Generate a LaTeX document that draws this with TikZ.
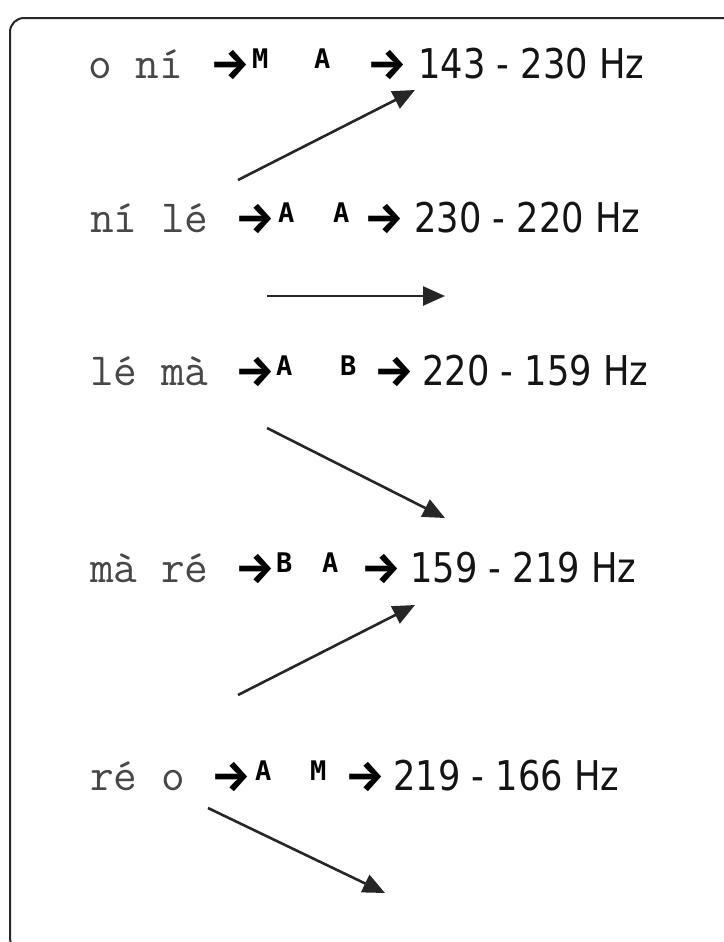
\documentclass[tikz,border=0pt]{standalone}
\usepackage{fontspec}
\setmainfont{DejaVu Sans}
\newfontfamily\hzf[FakeStretch=0.86]{DejaVu Sans}
\newfontfamily\arrf{Fira Sans}
\newfontfamily\supf{DejaVu Sans Mono}
\usetikzlibrary{arrows.meta}
\tikzset{
  syl/.style={inner sep=0pt, anchor=base west, text=black!72, font=\ttfamily\fontsize{46bp}{50bp}\selectfont},
  arr/.style={inner sep=0pt, anchor=base west, font=\arrf\bfseries\fontsize{44bp}{48bp}\selectfont},
  tone/.style={inner sep=0pt, anchor=base west, font=\supf\bfseries\fontsize{27bp}{30bp}\selectfont},
  hz/.style={inner sep=0pt, anchor=base west, text=black!92, font=\hzf\fontsize{41bp}{48bp}\selectfont},
  link/.style={line width=2.6bp, black!85, -{Triangle[length=22bp,width=19bp]}},
  frame/.style={line width=2bp, black!85, rounded corners=14bp}
}
\begin{document}
\begin{tikzpicture}[x=1bp,y=-1bp]
\useasboundingbox (0,0) rectangle (724,942);
\begin{scope}
\clip (0,0) rectangle (724,942);
\draw[frame] (10,18) rectangle (738,952);
\end{scope}
% row 1
\node[syl]  (s1) at (88,78) {o ní};
\node[arr]  (a1) at (210,79) {→};
\node[tone] (t1a) at (252,68) {M};
\node[tone] (t1b) at (314,68) {A};
\node[arr]  (b1) at (367,79) {→};
\node[hz]   (h1) at (418,78) {143 - 230 Hz};
% row 2
\node[syl]  (s2) at (90,232) {ní lé};
\node[arr]  (a2) at (235,233) {→};
\node[tone] (t2a) at (278,222) {A};
\node[tone] (t2b) at (333,222) {A};
\node[arr]  (b2) at (364,233) {→};
\node[hz]   (h2) at (414,232) {230 - 220 Hz};
% row 3
\node[syl]  (s3) at (90,385) {lé mà};
\node[arr]  (a3) at (235,386) {→};
\node[tone] (t3a) at (276,375) {A};
\node[tone] (t3b) at (340,375) {B};
\node[arr]  (b3) at (374,386) {→};
\node[hz]   (h3) at (422,385) {220 - 159 Hz};
% row 4
\node[syl]  (s4) at (90,582) {mà ré};
\node[arr]  (a4) at (235,583) {→};
\node[tone] (t4a) at (276,572) {B};
\node[tone] (t4b) at (322,572) {A};
\node[arr]  (b4) at (361,583) {→};
\node[hz]   (h4) at (410,582) {159 - 219 Hz};
% row 5
\node[syl]  (s5) at (90,790) {ré o};
\node[arr]  (a5) at (211,791) {→};
\node[tone] (t5a) at (255,780) {A};
\node[tone] (t5b) at (310,780) {M};
\node[arr]  (b5) at (345,791) {→};
\node[hz]   (h5) at (393,790) {219 - 166 Hz};
% connectors
\coordinate (p1) at (238,180); \coordinate (q1) at (415,90);
\coordinate (p2) at (267,296); \coordinate (q2) at (445,296);
\coordinate (p3) at (267,428); \coordinate (q3) at (445,518);
\coordinate (p4) at (238,695); \coordinate (q4) at (415,605);
\coordinate (p5) at (208,808); \coordinate (q5) at (385,893);
\draw[link] (p1) -- (q1);
\draw[link] (p2) -- (q2);
\draw[link] (p3) -- (q3);
\draw[link] (p4) -- (q4);
\draw[link] (p5) -- (q5);
\end{tikzpicture}
\end{document}
